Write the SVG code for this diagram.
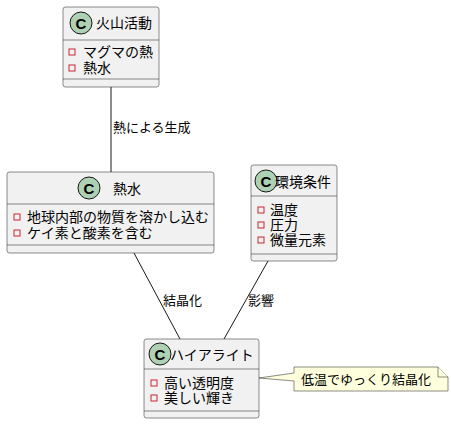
<svg xmlns="http://www.w3.org/2000/svg" width="451" height="425" viewBox="0 0 451 425">
<style>
.box{fill:#F1F1F1;stroke:#181818;stroke-width:0.5}
.sep{stroke:#181818;stroke-width:0.5}
.circ{fill:#ADD1B2;stroke:#181818;stroke-width:1}
.c{font-family:"Liberation Sans","Noto Sans",sans-serif;font-weight:bold;font-size:15px;fill:#000;text-anchor:middle}
.t{font-family:"Noto Sans CJK JP","Noto Sans",sans-serif;font-size:14px;fill:#000}
.m{font-family:"Noto Sans CJK JP","Noto Sans",sans-serif;font-size:14px;fill:#000}
.sq{fill:none;stroke:#C82930;stroke-width:1}
.edge{stroke:#181818;stroke-width:1;fill:none}
.lbl{font-family:"Noto Sans CJK JP","Noto Sans",sans-serif;font-size:13px;fill:#000}
.note{fill:#FEFFDD;stroke:#181818;stroke-width:0.5}
</style>
<g id="connectors">
<line class="edge" x1="111" y1="87" x2="111" y2="172"/>
<text class="lbl" x="113" y="132">熱による生成</text>
<line class="edge" x1="134" y1="253" x2="180" y2="339"/>
<text class="lbl" x="163" y="305">結晶化</text>
<line class="edge" x1="268" y1="261" x2="224" y2="339"/>
<text class="lbl" x="248" y="305">影響</text>
</g>
<g id="node-kazan">
<rect class="box" x="63" y="7" width="96" height="80" rx="2.5"/>
<circle class="circ" cx="81" cy="23" r="11"/>
<text class="c" x="81" y="28.5">C</text>
<text class="t" x="96" y="28">火山活動</text>
<line class="sep" x1="63" y1="40" x2="159" y2="40"/>
<rect class="sq" x="69" y="49" width="6" height="6"/>
<text class="m" x="83" y="57">マグマの熱</text>
<rect class="sq" x="69" y="65" width="6" height="6"/>
<text class="m" x="83" y="73">熱水</text>
<line class="sep" x1="63" y1="79" x2="159" y2="79"/>
</g>
<g id="node-nessui">
<rect class="box" x="7" y="172" width="207" height="81" rx="2.5"/>
<circle class="circ" cx="89" cy="188" r="11"/>
<text class="c" x="89" y="193.5">C</text>
<text class="t" x="113" y="194">熱水</text>
<line class="sep" x1="7" y1="204" x2="214" y2="204"/>
<rect class="sq" x="14" y="214" width="6" height="6"/>
<text class="m" x="27" y="222">地球内部の物質を溶かし込む</text>
<rect class="sq" x="14" y="230" width="6" height="6"/>
<text class="m" x="27" y="238">ケイ素と酸素を含む</text>
<line class="sep" x1="7" y1="245" x2="214" y2="245"/>
</g>
<g id="node-kankyo">
<rect class="box" x="251" y="165" width="86" height="96" rx="2.5"/>
<circle class="circ" cx="266" cy="181" r="11"/>
<text class="c" x="266" y="186.5">C</text>
<text class="t" x="275" y="187">環境条件</text>
<line class="sep" x1="251" y1="196" x2="337" y2="196"/>
<rect class="sq" x="258" y="207" width="6" height="6"/>
<text class="m" x="270" y="215">温度</text>
<rect class="sq" x="258" y="222" width="6" height="6"/>
<text class="m" x="270" y="230">圧力</text>
<rect class="sq" x="258" y="237" width="6" height="6"/>
<text class="m" x="270" y="245">微量元素</text>
<line class="sep" x1="251" y1="254" x2="337" y2="254"/>
</g>
<g id="node-hyalite">
<rect class="box" x="144" y="339" width="115" height="79" rx="2.5"/>
<circle class="circ" cx="160" cy="354" r="11"/>
<text class="c" x="160" y="359.5">C</text>
<text class="t" x="170" y="360">ハイアライト</text>
<line class="sep" x1="144" y1="369" x2="259" y2="369"/>
<rect class="sq" x="151" y="380" width="6" height="6"/>
<text class="m" x="164" y="388">高い透明度</text>
<rect class="sq" x="151" y="395" width="6" height="6"/>
<text class="m" x="164" y="403">美しい輝き</text>
<line class="sep" x1="144" y1="411" x2="259" y2="411"/>
</g>
<g id="note">
<path class="note" d="M294,367 L438,367 L448,377 L448,391 L294,391 L294,381 L259,378 L294,373 Z"/>
<path class="note" d="M438,367 L438,377 L448,377"/>
<text class="lbl" x="301" y="384">低温でゆっくり結晶化</text>
</g>
</svg>
